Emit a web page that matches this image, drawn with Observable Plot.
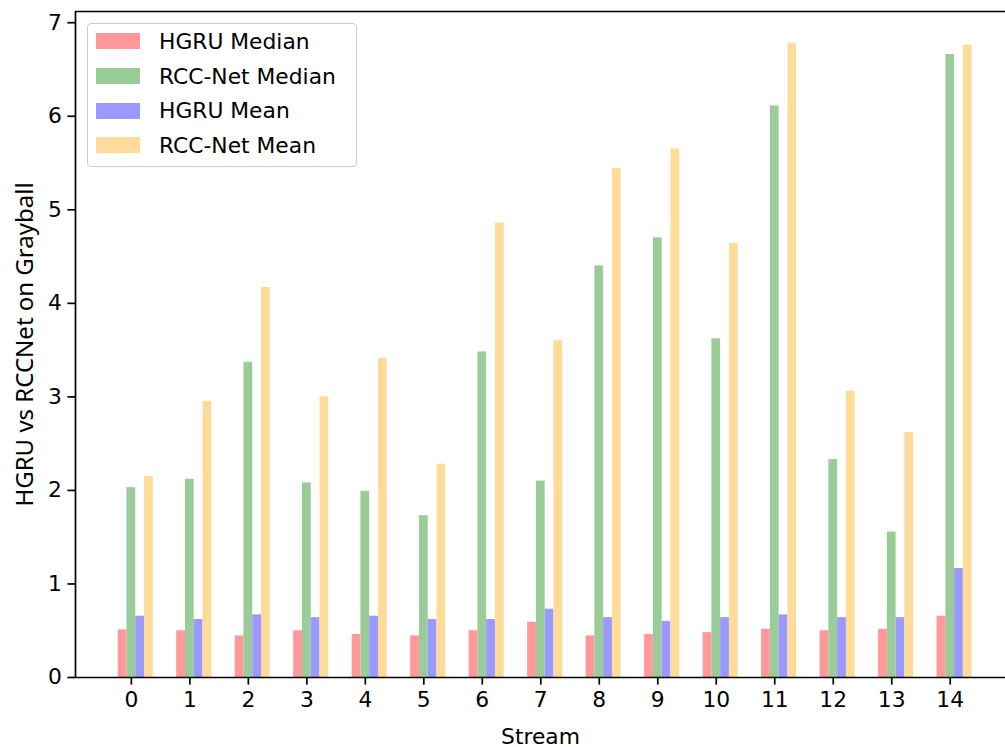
<!DOCTYPE html>
<html>
<head>
<meta charset="utf-8">
<script src="https://cdn.jsdelivr.net/npm/d3@7"></script>
<script src="https://cdn.jsdelivr.net/npm/@observablehq/plot@0.6"></script>
<style>
  body { margin: 0; background: #fff; }
  #wrap { position: relative; width: 1005px; height: 747px; overflow: hidden; font-family: "DejaVu Sans", sans-serif; }
  #wrap svg { position: absolute; left: 0; top: 0; }
  #wrap svg [aria-label="y-axis label"], #wrap svg [aria-label="y-axis label"] text {
    font-family: "Noto Sans", sans-serif !important; font-size: 24px !important; }
  #legend { position: absolute; left: 87px; top: 23px; width: 270px; height: 144px; box-sizing: border-box;
            border: 1px solid #cccccc; border-radius: 4px; background: rgba(255,255,255,0.8);
            padding: 0 0 0 8px; z-index: 2; }
  .item { display: flex; align-items: center; height: 34.7px; font-size: 21.8px; color: #000; white-space: nowrap; }
  .sw { width: 44px; height: 16px; margin-right: 19px; flex: none; }
</style>
</head>
<body>
<div id="wrap"></div>
<script>
// ---- data ----
const streams = [0, 1, 2, 3, 4, 5, 6, 7, 8, 9, 10, 11, 12, 13, 14];
const seriesNames = ["HGRU Median", "RCC-Net Median", "HGRU Mean", "RCC-Net Mean"];
const hgruMedian = [0.51, 0.50, 0.445, 0.50, 0.46, 0.445, 0.50, 0.59, 0.445, 0.46, 0.48, 0.515, 0.50, 0.515, 0.655];
const rccMedian  = [2.03, 2.12, 3.37, 2.08, 1.99, 1.73, 3.48, 2.10, 4.40, 4.70, 3.62, 6.11, 2.33, 1.555, 6.66];
const hgruMean   = [0.655, 0.62, 0.67, 0.64, 0.655, 0.62, 0.62, 0.73, 0.64, 0.60, 0.64, 0.67, 0.64, 0.64, 1.165];
const rccMean    = [2.15, 2.95, 4.17, 3.00, 3.41, 2.28, 4.86, 3.60, 5.44, 5.65, 4.64, 6.78, 3.06, 2.62, 6.76];
const yTicks = [0, 1, 2, 3, 4, 5, 6, 7];

// ---- layout / style ----
const seriesValues = [hgruMedian, rccMedian, hgruMean, rccMean];
const seriesColors = ["#ff9999", "#99cc99", "#9999ff", "#ffdb99"];
const seriesOffsets = [-0.15, 0, 0.15, 0.30];
const barWidth = 0.15;
const xMin = -0.955, xMax = 14.945;
const yMax = 7.12;

const rows = [];
seriesNames.forEach((name, s) => {
  streams.forEach((st, i) => {
    rows.push({
      series: name,
      x1: st + seriesOffsets[s] - barWidth / 2,
      x2: st + seriesOffsets[s] + barWidth / 2,
      value: seriesValues[s][i]
    });
  });
});

const chart = Plot.plot({
  width: 1005,
  height: 747,
  marginLeft: 75,
  marginRight: 0,
  marginTop: 11,
  marginBottom: 70,
  style: { fontFamily: "DejaVu Sans, sans-serif", fontSize: "21.8px", color: "#000", background: "#fff" },
  x: { type: "linear", domain: [xMin, xMax] },
  y: { domain: [0, yMax] },
  color: { domain: seriesNames, range: seriesColors },
  marks: [
    Plot.rectY(rows, { x1: "x1", x2: "x2", y: "value", fill: "series" }),
    Plot.ruleY([0], { stroke: "#000", strokeWidth: 1.7 }),
    Plot.ruleY([yMax], { stroke: "#000", strokeWidth: 1.7 }),
    Plot.ruleX([xMin], { stroke: "#000", strokeWidth: 1.7 }),
    Plot.axisX({ ticks: streams, tickFormat: d => String(d), tickSize: 7.6, tickPadding: 6, strokeWidth: 1.7,
                 label: "Stream", labelAnchor: "center", labelOffset: 66, labelArrow: false }),
    Plot.axisY({ ticks: yTicks, tickFormat: d => String(d), tickSize: 7.6, tickPadding: 6, strokeWidth: 1.7,
                 label: "HGRU vs RCCNet on Grayball", labelAnchor: "center", labelOffset: 60, labelArrow: false })
  ]
});

const wrap = document.getElementById("wrap");
wrap.appendChild(chart);

const legend = document.createElement("div");
legend.id = "legend";
seriesNames.forEach((name, s) => {
  const item = document.createElement("div");
  item.className = "item";
  const sw = document.createElement("span");
  sw.className = "sw";
  sw.style.background = seriesColors[s];
  const label = document.createElement("span");
  label.textContent = name;
  item.appendChild(sw);
  item.appendChild(label);
  legend.appendChild(item);
});
wrap.appendChild(legend);
</script>
</body>
</html>
